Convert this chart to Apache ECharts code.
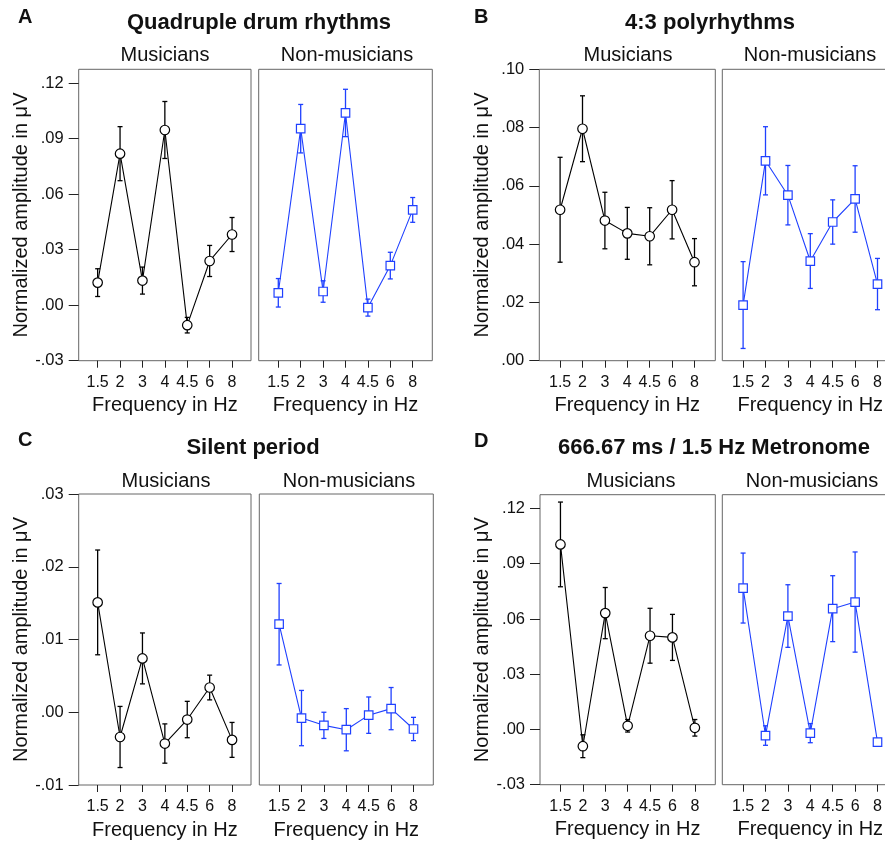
<!DOCTYPE html>
<html>
<head>
<meta charset="utf-8">
<script src="https://cdn.jsdelivr.net/npm/echarts@6/dist/echarts.min.js"></script>
<style>
  html, body { margin: 0; padding: 0; background: #fff; }
  #chart { width: 885px; height: 843px; }
</style>
</head>
<body>
<div id="chart"></div>
<script>
// x categories (Hz)
const freqLabels = ['1.5', '2', '3', '4', '4.5', '6', '8'];

// A - Quadruple drum rhythms
const quadMusMean = [0.0122, 0.0819, 0.0133, 0.0947, -0.0108, 0.0239, 0.0382];
const quadMusErr = [0.0075, 0.0146, 0.0073, 0.0154, 0.0042, 0.0084, 0.0092];
const quadNonMean = [0.0067, 0.0954, 0.0074, 0.1039, -0.0013, 0.0214, 0.0515];
const quadNonErr = [0.0077, 0.0131, 0.0058, 0.0128, 0.0046, 0.0072, 0.0067];

// B - 4:3 polyrhythms
const polyMusMean = [0.0518, 0.0796, 0.0481, 0.0437, 0.0427, 0.0518, 0.0338];
const polyMusErr = [0.0180, 0.0113, 0.0097, 0.0089, 0.0098, 0.0100, 0.0081];
const polyNonMean = [0.0191, 0.0686, 0.0568, 0.0342, 0.0476, 0.0555, 0.0263];
const polyNonErr = [0.0149, 0.0117, 0.0102, 0.0094, 0.0076, 0.0114, 0.0088];

// C - Silent period
const silentMusMean = [0.0151, -0.0034, 0.0074, -0.0043, -0.0010, 0.0034, -0.0038];
const silentMusErr = [0.0072, 0.0042, 0.0035, 0.0027, 0.0025, 0.0017, 0.0024];
const silentNonMean = [0.0121, -0.0008, -0.0018, -0.0024, -0.0004, 0.0005, -0.0023];
const silentNonErr = [0.0056, 0.0038, 0.0018, 0.0029, 0.0025, 0.0029, 0.0016];

// D - 666.67 ms / 1.5 Hz Metronome
const metroMusMean = [0.1005, -0.0091, 0.0632, 0.0020, 0.0509, 0.0500, 0.0009];
const metroMusErr = [0.0230, 0.0062, 0.0139, 0.0034, 0.0149, 0.0125, 0.0045];
const metroNonMean = [0.0768, -0.0033, 0.0616, -0.0020, 0.0656, 0.0692, -0.0069];
const metroNonErr = [0.0190, 0.0053, 0.0170, 0.0052, 0.0179, 0.0272, 0.0015];

// y tick labels
const ticksQuad = [-0.03, 0, 0.03, 0.06, 0.09, 0.12];
const ticksPoly = [0, 0.02, 0.04, 0.06, 0.08, 0.10];
const ticksSilent = [-0.01, 0, 0.01, 0.02, 0.03];
const ticksMetro = [-0.03, 0, 0.03, 0.06, 0.09, 0.12];

const BLUE = '#1f40ff';
const FONT = 'Liberation Sans, Arial, sans-serif';
const xIdx = freqLabels.map((_, i) => i);

const panels = [
  { mean: quadMusMean, err: quadMusErr, mus: true, box: [78.7, 69.3, 172.3, 291.4], y: [-0.03, 0.1275], ticks: ticksQuad },
  { mean: quadNonMean, err: quadNonErr, mus: false, box: [258.7, 69.3, 173.6, 291.4], y: [-0.03, 0.1275], ticks: ticksQuad },
  { mean: polyMusMean, err: polyMusErr, mus: true, box: [539.3, 69.3, 176, 291.4], y: [0, 0.10], ticks: ticksPoly },
  { mean: polyNonMean, err: polyNonErr, mus: false, box: [722.3, 69.3, 176, 291.4], y: [0, 0.10], ticks: ticksPoly },
  { mean: silentMusMean, err: silentMusErr, mus: true, box: [78.7, 494, 172.3, 291], y: [-0.01, 0.03], ticks: ticksSilent },
  { mean: silentNonMean, err: silentNonErr, mus: false, box: [259.3, 494, 174, 291], y: [-0.01, 0.03], ticks: ticksSilent },
  { mean: metroMusMean, err: metroMusErr, mus: true, box: [540, 494.7, 175.3, 290], y: [-0.03, 0.1275], ticks: ticksMetro },
  { mean: metroNonMean, err: metroNonErr, mus: false, box: [722.3, 494.7, 176, 290], y: [-0.03, 0.1275], ticks: ticksMetro }
];

const fmtY = v => v.toFixed(2).replace('0.', '.');

const grid = [], xAxis = [], yAxis = [], series = [];
panels.forEach((p, k) => {
  const color = p.mus ? '#000' : BLUE;
  const pad = (p.box[2] / 22.4 - 6) / 2;
  grid.push({
    left: p.box[0], top: p.box[1], width: p.box[2], height: p.box[3],
    outerBoundsMode: 'none', containLabel: false,
    show: true, borderColor: '#666', borderWidth: 1, backgroundColor: 'transparent'
  });
  xAxis.push({
    type: 'value', gridIndex: k, min: -pad, max: 6 + pad,
    splitLine: { show: false },
    axisLine: { show: false, onZero: false },
    axisTick: { show: true, length: 7, customValues: xIdx, lineStyle: { color: '#222' } },
    axisLabel: {
      customValues: xIdx, margin: 14, fontSize: 16, fontFamily: FONT, color: '#111',
      formatter: v => freqLabels[Math.round(v)]
    },
    name: 'Frequency in Hz', nameLocation: 'middle', nameGap: 35,
    nameTextStyle: { fontSize: 20, fontFamily: FONT, color: '#111' }
  });
  yAxis.push({
    type: 'value', gridIndex: k, min: p.y[0], max: p.y[1],
    splitLine: { show: false },
    axisLine: { show: false, onZero: false },
    axisTick: { show: p.mus, length: 10, customValues: p.ticks, lineStyle: { color: '#222' } },
    axisLabel: {
      show: p.mus, customValues: p.ticks, margin: 15, fontSize: 16.5, fontFamily: FONT, color: '#111',
      formatter: fmtY
    },
    name: p.mus ? 'Normalized amplitude in μV' : '',
    nameLocation: 'middle', nameGap: 47,
    nameTextStyle: { fontSize: 20, fontFamily: FONT, color: '#111' }
  });
  // error bars
  series.push({
    type: 'custom', xAxisIndex: k, yAxisIndex: k, z: 2,
    data: p.mean.map((m, i) => [i, m - p.err[i], m + p.err[i]]),
    encode: { x: 0, y: [1, 2] },
    renderItem: (params, api) => {
      const lo = api.coord([api.value(0), api.value(1)]);
      const hi = api.coord([api.value(0), api.value(2)]);
      const st = { stroke: color, lineWidth: 1.3 };
      return {
        type: 'group',
        children: [
          { type: 'line', shape: { x1: lo[0], y1: lo[1], x2: hi[0], y2: hi[1] }, style: st },
          { type: 'line', shape: { x1: lo[0] - 2.5, y1: lo[1], x2: lo[0] + 2.5, y2: lo[1] }, style: st },
          { type: 'line', shape: { x1: hi[0] - 2.5, y1: hi[1], x2: hi[0] + 2.5, y2: hi[1] }, style: st }
        ]
      };
    }
  });
  // means
  series.push({
    type: 'line', xAxisIndex: k, yAxisIndex: k, z: 3,
    data: p.mean.map((m, i) => [i, m]),
    symbol: p.mus ? 'circle' : 'rect',
    symbolSize: p.mus ? 9.5 : 8.5,
    lineStyle: { color: color, width: 1.1 },
    itemStyle: { color: '#fff', borderColor: color, borderWidth: 1.2 },
    emphasis: { disabled: true },
    animation: false
  });
});

const txt = (x, y, text, size, bold, align) => ({
  type: 'text', x: x, y: y,
  style: {
    text: text, fontSize: size, fontWeight: bold ? 'bold' : 'normal', fontFamily: FONT,
    fill: '#111', align: align || 'center', verticalAlign: 'middle'
  }
});

const graphic = [
  txt(18, 17, 'A', 20, true, 'left'),
  txt(259, 23, 'Quadruple drum rhythms', 22, true),
  txt(165, 55, 'Musicians', 20),
  txt(347, 55, 'Non-musicians', 20),
  txt(474, 17, 'B', 20, true, 'left'),
  txt(710, 23, '4:3 polyrhythms', 22, true),
  txt(628, 55, 'Musicians', 20),
  txt(810, 55, 'Non-musicians', 20),
  txt(18, 440, 'C', 20, true, 'left'),
  txt(253, 448, 'Silent period', 22, true),
  txt(166, 481, 'Musicians', 20),
  txt(349, 481, 'Non-musicians', 20),
  txt(474, 441, 'D', 20, true, 'left'),
  txt(714, 448, '666.67 ms / 1.5 Hz Metronome', 22, true),
  txt(631, 481, 'Musicians', 20),
  txt(812, 481, 'Non-musicians', 20)
];

const chart = echarts.init(document.getElementById('chart'), null, { renderer: 'canvas' });
chart.setOption({
  animation: false,
  backgroundColor: '#fff',
  grid: grid,
  xAxis: xAxis,
  yAxis: yAxis,
  series: series,
  graphic: graphic
});
</script>
</body>
</html>
